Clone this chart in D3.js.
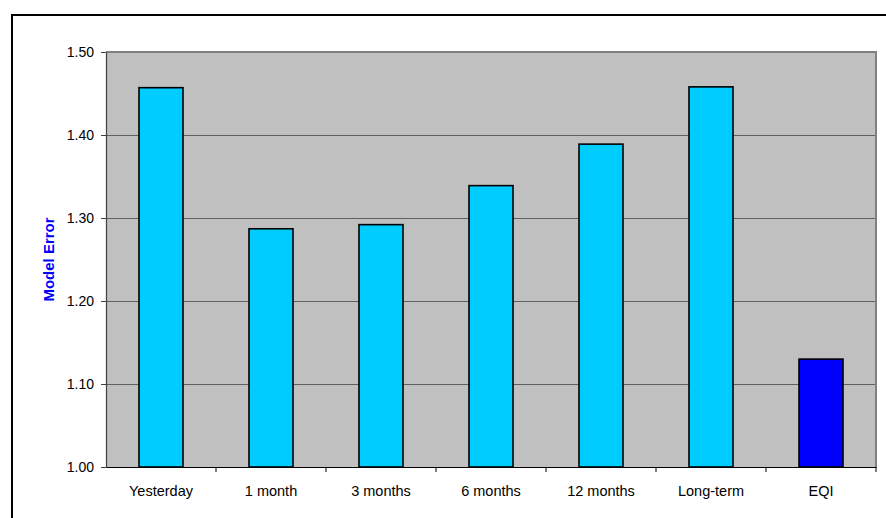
<!DOCTYPE html>
<html>
<head>
<meta charset="utf-8">
<script src="https://cdn.jsdelivr.net/npm/d3@7/dist/d3.min.js"></script>
<style>
  html, body { margin: 0; padding: 0; background: #fff; }
  svg { display: block; }
  text { font-family: "Liberation Sans", Arial, sans-serif; }
</style>
</head>
<body>
<svg id="chart" width="886" height="518"></svg>
<script>
// Forecast horizon categories and their model error
const categories = ["Yesterday", "1 month", "3 months", "6 months", "12 months", "Long-term", "EQI"];
const modelError = [1.457, 1.287, 1.292, 1.339, 1.389, 1.458, 1.130];
const barColors = ["#00CCFF", "#00CCFF", "#00CCFF", "#00CCFF", "#00CCFF", "#00CCFF", "#0000FF"];
const yTicks = [1.00, 1.10, 1.20, 1.30, 1.40, 1.50];
const yLabel = "Model Error";

const svg = d3.select("#chart");
const plot = { left: 106, top: 52, right: 876, bottom: 467 };

// Outer chart frame
svg.append("rect")
  .attr("x", 12).attr("y", 15)
  .attr("width", 890).attr("height", 520)
  .attr("fill", "none").attr("stroke", "#000").attr("stroke-width", 2);

const x = d3.scaleBand()
  .domain(categories)
  .range([plot.left, plot.right])
  .paddingInner(0).paddingOuter(0);

const y = d3.scaleLinear()
  .domain([1.0, 1.5])
  .range([plot.bottom, plot.top]);

// Plot area background
svg.append("rect")
  .attr("x", plot.left).attr("y", plot.top)
  .attr("width", plot.right - plot.left).attr("height", plot.bottom - plot.top)
  .attr("fill", "#C0C0C0");

// Gridlines
svg.append("g")
  .selectAll("line")
  .data(yTicks.filter(t => t > 1.0 && t < 1.5))
  .join("line")
  .attr("x1", plot.left).attr("x2", plot.right)
  .attr("y1", d => Math.round(y(d)) + 0.5).attr("y2", d => Math.round(y(d)) + 0.5)
  .attr("stroke", "#606060").attr("stroke-width", 1.2);

// Plot frame (top and right)
svg.append("path")
  .attr("d", `M${plot.left},${plot.top}H${plot.right}V${plot.bottom}`)
  .attr("fill", "none").attr("stroke", "#808080").attr("stroke-width", 2);

// Bars
const barW = x.bandwidth() * 0.4;
svg.append("g")
  .selectAll("rect")
  .data(categories.map((c, i) => ({ c, v: modelError[i], col: barColors[i] })))
  .join("rect")
  .attr("x", d => x(d.c) + (x.bandwidth() - barW) / 2)
  .attr("y", d => y(d.v))
  .attr("width", barW)
  .attr("height", d => y(1.0) - y(d.v))
  .attr("fill", d => d.col)
  .attr("stroke", "#000").attr("stroke-width", 1.6);

// Y axis
const yAxis = d3.axisLeft(y)
  .tickValues(yTicks)
  .tickFormat(d3.format(".2f"))
  .tickSizeOuter(0)
  .tickSizeInner(5)
  .tickPadding(7);
const yg = svg.append("g")
  .attr("transform", `translate(${plot.left},0)`)
  .call(yAxis);
yg.select(".domain").attr("stroke", "#404040").attr("stroke-width", 1.2);
yg.selectAll(".tick line").attr("stroke", "#404040");
yg.selectAll(".tick text")
  .attr("font-size", 14).attr("fill", "#000")
  .style("font-family", "'Liberation Sans', Arial, sans-serif");

// X axis with ticks on category boundaries
const xAxis = d3.axisBottom(x).tickSize(0).tickPadding(18.5).tickSizeOuter(0);
const xg = svg.append("g")
  .attr("transform", `translate(0,${plot.bottom})`)
  .call(xAxis);
xg.select(".domain").attr("stroke", "#000").attr("stroke-width", 1.2);
xg.selectAll(".tick text")
  .attr("font-size", 14.5).attr("fill", "#000")
  .style("font-family", "'Liberation Sans', Arial, sans-serif");
xg.append("g")
  .selectAll("line")
  .data(categories.slice(1).concat(["__end"]))
  .join("line")
  .attr("x1", (d, i) => i < categories.length - 1 ? x(d) : plot.right)
  .attr("x2", (d, i) => i < categories.length - 1 ? x(d) : plot.right)
  .attr("y1", 0).attr("y2", 5)
  .attr("stroke", "#000");

// Y axis title
svg.append("text")
  .attr("transform", `translate(54,${(plot.top + plot.bottom) / 2}) rotate(-90)`)
  .attr("text-anchor", "middle")
  .attr("font-size", 15).attr("font-weight", "bold")
  .attr("fill", "#0000FF")
  .text(yLabel);
</script>
</body>
</html>
